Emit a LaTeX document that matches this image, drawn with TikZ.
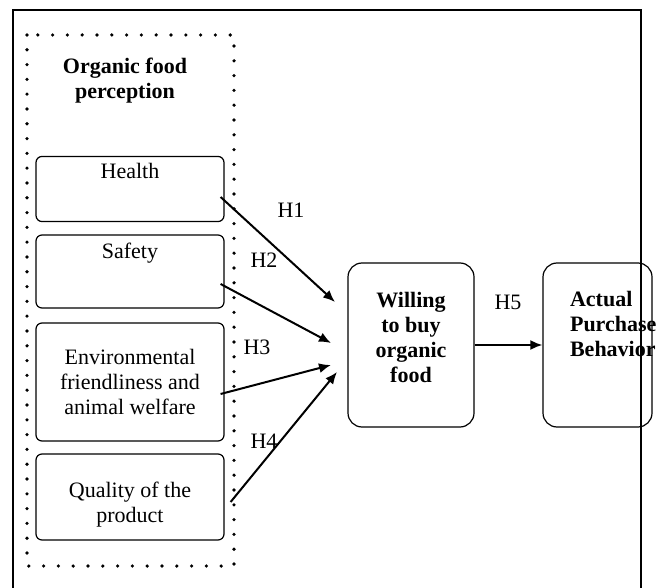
\documentclass[tikz,border=0pt]{standalone}
\usepackage{fontspec}
\setmainfont{Liberation Serif}
\usetikzlibrary{arrows.meta}

\begin{document}
\begin{tikzpicture}[x=0.5pt,y=-0.5pt,
    font=\fontsize{11}{12.5}\selectfont,
    >={Latex[length=6pt,width=5pt]},
    factor/.style={draw,rounded corners=3pt,line width=0.6pt,minimum width=94pt,align=center},
    stage/.style={draw,rounded corners=7pt,line width=0.6pt,minimum width=63pt,minimum height=82pt}]

    \useasboundingbox (0,0) rectangle (664,588);

    % frame and perception group
    \draw[line width=0.7pt] (13,588) -- (13,10) -- (641,10) -- (641,588);
    \draw[line width=1.8pt,line cap=round,dash pattern=on 0pt off 7.4pt] (27,35) rectangle (234,566);
    \node[font=\fontsize{11}{12.5}\selectfont\bfseries,align=center] (perc) at (125,81) {Organic food\\perception};

    \node[factor,minimum height=32pt] (health) at (130,189) {Health\\[2pt]\strut};
    \node[factor,minimum height=36.5pt] (safety) at (130,271.5) {Safety\\[4pt]\strut};
    \node[factor,minimum height=59pt] (env) at (130,382) {Environmental\\friendliness and\\animal welfare};
    \node[factor,minimum height=43pt] (quality) at (130,497) {\mbox{}\\[2.5pt]Quality of the\\product};

    \node[stage,font=\fontsize{11}{12.5}\selectfont\bfseries,align=center] (will) at (411,345) {Willing\\to buy\\organic\\food\\[-4.5pt]\mbox{}};
    \node[stage,minimum width=54.5pt] (actual) at (597.5,345) {};
    \node[font=\fontsize{11}{12.5}\selectfont\bfseries,align=left,anchor=west] (actualtext) at (563,324) {Actual\\Purchase\\Behavior};

    \coordinate (in1) at (335,302);
    \coordinate (in2) at (331,343);
    \coordinate (in3) at (331,365);
    \coordinate (in4) at (337,372);

    \path [->,line width=1pt]
    ([shift={(-4,8)}]health.east) edge (in1)
    ([shift={(-4,12.5)}]safety.east) edge (in2)
    ([shift={(-4,12)}]env.east) edge (in3)
    ([shift={(6,5)}]quality.east) edge (in4)
    (will.east) edge (actual.west);

    \node (h1) at (291,210) {H1};
    \node (h2) at (264,260) {H2};
    \node (h3) at (257,347) {H3};
    \node (h4) at (264,441) {H4};
    \node (h5) at (508,302) {H5};
\end{tikzpicture}
\end{document}
